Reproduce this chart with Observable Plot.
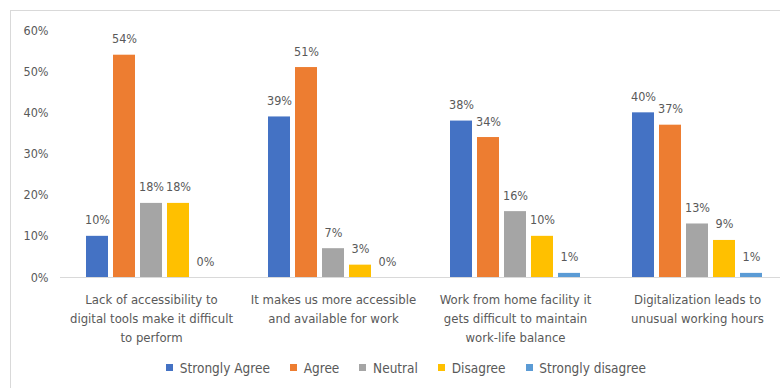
<!DOCTYPE html>
<html>
<head>
<meta charset="utf-8">
<script src="https://cdn.jsdelivr.net/npm/d3@7"></script>
<script src="https://cdn.jsdelivr.net/npm/@observablehq/plot@0.6"></script>
<style>
  html, body { margin: 0; padding: 0; background: #fff; width: 780px; height: 388px; overflow: hidden; }
  #frame { position: absolute; left: 10px; top: 10px; width: 800px; height: 400px; border-left: 1px solid #d9d9d9; border-top: 1px solid #d9d9d9; box-sizing: border-box; }
  #chart { position: absolute; left: 0; top: 0; }
  #legend { position: absolute; left: 0; top: 351px; width: 812px; display: flex; justify-content: center; }
  #legend span[class$="-swatch"] { margin-right: 20px !important; }
  #legend span[class$="-swatch"]:last-child { margin-right: 0 !important; }
</style>
</head>
<body>
<div id="frame"></div>
<div id="chart"></div>
<div id="legend"></div>
<script>
const categories = [
  "Lack of accessibility to\ndigital tools make it difficult\nto perform",
  "It makes us more accessible\nand available for work",
  "Work from home facility it\ngets difficult to maintain\nwork-life balance",
  "Digitalization leads to\nunusual working hours"
];
const series = ["Strongly Agree", "Agree", "Neutral", "Disagree", "Strongly disagree"];
const colors = ["#4472C4", "#ED7D31", "#A5A5A5", "#FFC000", "#5B9BD5"];
const stronglyAgree    = [0.10, 0.39, 0.38, 0.40];
const agree            = [0.54, 0.51, 0.34, 0.37];
const neutral          = [0.18, 0.07, 0.16, 0.13];
const disagree         = [0.18, 0.03, 0.10, 0.09];
const stronglyDisagree = [0.00, 0.00, 0.01, 0.01];
const yTicks = [0, 0.1, 0.2, 0.3, 0.4, 0.5, 0.6];

const seriesValues = [stronglyAgree, agree, neutral, disagree, stronglyDisagree];
const data = [];
categories.forEach((c, i) => {
  series.forEach((s, j) => data.push({category: c, series: s, value: seriesValues[j][i]}));
});

const font = "'Liberation Sans Narrow', 'DejaVu Sans Condensed', sans-serif";
const textColor = "#595959";

const chart = Plot.plot({
  width: 780,
  height: 355,
  marginTop: 30,
  marginBottom: 78,
  marginLeft: 60,
  marginRight: -8,
  style: {fontFamily: font, fontSize: "13px", color: textColor, background: "transparent", overflow: "hidden"},
  fx: {domain: categories, padding: 0, label: null},
  x: {domain: series, paddingInner: 0.2, paddingOuter: 0.909, axis: null},
  y: {domain: [0, 0.6], label: null},
  color: {domain: series, range: colors},
  marks: [
    Plot.axisY({ticks: yTicks, tickFormat: d3.format(".0%"), tickSize: 0, tickPadding: 12, fill: textColor, fontSize: 12.5}),
    Plot.axisFx({anchor: "bottom", tickSize: 0, tickPadding: 13, lineAnchor: "top", lineHeight: 1.45, fill: textColor, fontSize: 13, label: null}),
    Plot.ruleY([0], {stroke: "#d9d9d9", strokeWidth: 1}),
    Plot.barY(data, {fx: "category", x: "series", y: "value", fill: "series"}),
    Plot.text(data, {fx: "category", x: "series", y: "value", text: d => d3.format(".0%")(d.value), dy: -16, fill: textColor, fontSize: 12.5})
  ]
});
document.getElementById("chart").appendChild(chart);

const legend = Plot.legend({
  color: {domain: series, range: colors},
  legend: "swatches",
  swatchSize: 7,
  style: {fontFamily: font, fontSize: "13.5px", color: textColor}
});
document.getElementById("legend").appendChild(legend);
</script>
</body>
</html>
